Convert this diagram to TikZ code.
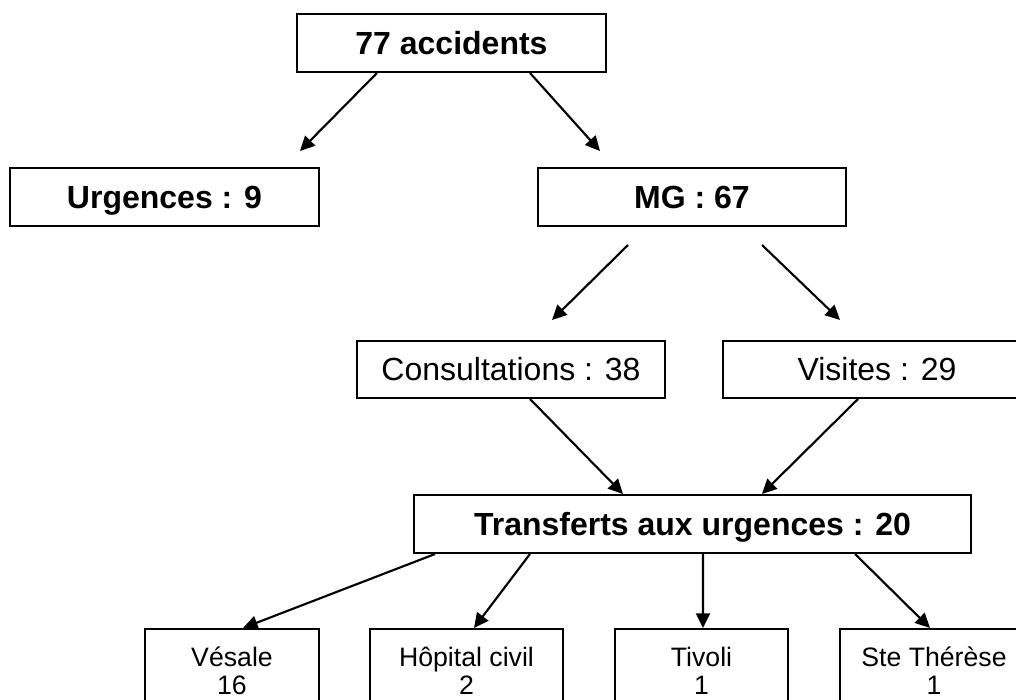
\documentclass[tikz,border=0pt]{standalone}
\usepackage{fontspec}
\setmainfont{Liberation Sans}
\usepackage{tikz}
\usetikzlibrary{arrows.meta}
\tikzstyle{box} = [rectangle, draw=black, line width=1.5pt, fill=white, text centered, inner sep=0pt, text height=17.2pt, text depth=0pt, font=\fontsize{24}{28}\selectfont]
\tikzstyle{boldbox} = [box, font=\fontsize{24}{28}\selectfont\bfseries]
\tikzstyle{smallbox} = [rectangle, draw=black, line width=1.5pt, fill=white, inner sep=0pt, align=center, minimum height=63pt, font=\fontsize{20}{21}\selectfont]
\tikzstyle{arrow} = [line width=1.6pt, -{Triangle[length=11pt,width=10.5pt]}]

\begin{document}
\begin{tikzpicture}[x=0.75pt, y=-0.75pt]
    \useasboundingbox (0,0) rectangle (1016,699);
    \node (acc) [boldbox, minimum width=231.75pt, minimum height=43.5pt] at (451.5,43) {77 accidents};
    \node (urg) [boldbox, minimum width=231.75pt, minimum height=43.5pt] at (164.5,197) {Urgences : 9};
    \node (mg) [boldbox, minimum width=231pt, minimum height=43.5pt] at (692,197) {MG : 67};
    \node (cons) [box, minimum width=231pt, minimum height=42.75pt] at (511,369.5) {Consultations : 38};
    \node (vis) [box, minimum width=231pt, minimum height=42.75pt] at (877,369.5) {Visites : 29};
    \node (trans) [boldbox, minimum width=417.75pt, minimum height=43.5pt] at (692.5,524) {Transferts aux urgences : 20};
    \node (ves) [smallbox, minimum width=130.5pt] at (232,671) {Vésale\\16};
    \node (hop) [smallbox, minimum width=144.75pt] at (466.5,671) {Hôpital civil\\2};
    \node (tiv) [smallbox, minimum width=129.75pt] at (701.5,671) {Tivoli\\1};
    \node (ste) [smallbox, minimum width=141pt] at (934,671) {Ste Thérèse\\1};

    \draw [arrow] ([xshift=-55.9pt]acc.south) -- ([xshift=101.6pt,yshift=12pt]urg.north);
    \draw [arrow] ([xshift=58.9pt]acc.south) -- ([xshift=-69pt,yshift=12pt]mg.north);
    \draw [arrow] ([xshift=-48pt,yshift=-13.5pt]mg.south) -- ([xshift=30.75pt,yshift=15pt]cons.north);
    \draw [arrow] ([xshift=52.5pt,yshift=-13.5pt]mg.south) -- ([xshift=-27.75pt,yshift=15pt]vis.north);
    \draw [arrow] ([xshift=14.25pt]cons.south) -- ([xshift=-52.1pt]trans.north);
    \draw [arrow] ([xshift=-14.25pt]vis.south) -- ([xshift=52.1pt]trans.north);
    \draw [arrow] ([xshift=-193.1pt]trans.south) -- ([xshift=8.25pt]ves.north);
    \draw [arrow] ([xshift=-121.9pt]trans.south) -- ([xshift=5.6pt]hop.north);
    \draw [arrow] ([xshift=7.9pt]trans.south) -- ([xshift=1.1pt]tiv.north);
    \draw [arrow] ([xshift=121.9pt]trans.south) -- ([xshift=-3pt]ste.north);
\end{tikzpicture}
\end{document}
